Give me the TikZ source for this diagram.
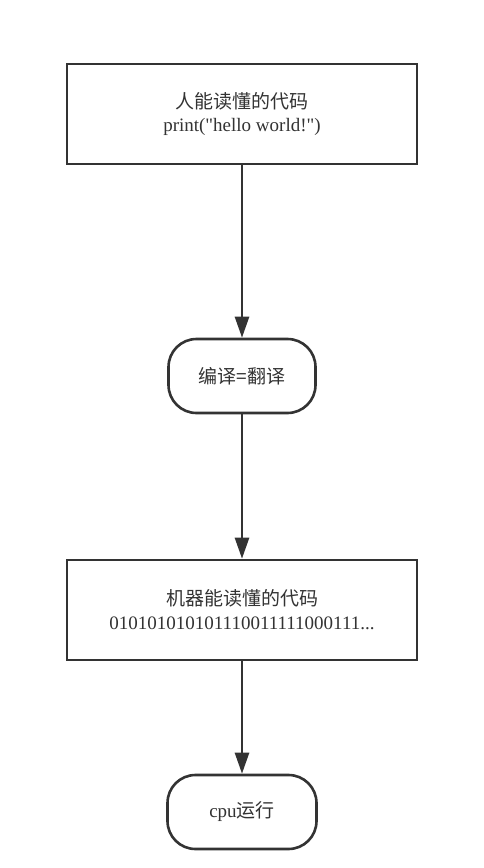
\documentclass[tikz,border=0pt]{standalone}
\usepackage{fontspec}
\setmainfont{Liberation Serif}[Ligatures=TeXOff]
\newfontfamily\cjk{Noto Sans CJK SC}
\usetikzlibrary{arrows.meta}
\definecolor{ink}{HTML}{333333}
\tikzset{
  flowbox/.style={draw=ink, line width=2.6pt, fill=white, text=ink,
    align=center, font=\fontsize{19}{24}\selectfont,
    minimum width=350pt, minimum height=100pt},
  flowpill/.style={flowbox, rounded corners=28pt,
    minimum width=147pt, minimum height=74pt},
  flowarrow/.style={draw=ink, line width=2.6pt,
    -{Triangle[length=21pt,width=14pt]}}
}
\begin{document}
\begin{tikzpicture}[x=1pt, y=-1pt]
      \useasboundingbox (0,0) rectangle (483,868);
      \node[flowbox] (human) at (242,114) {{\cjk 人能读懂的代码}\\print("hello world!")};
      \node[flowpill] (compile) at (242,376) {\cjk 编译=翻译};
      \node[flowbox] (machine) at (242,610) {{\cjk 机器能读懂的代码}\\010101010101110011111000111...};
      \node[flowpill, minimum width=149pt] (cpu) at (242,812) {cpu{\cjk 运行}};
      \draw[flowarrow] (human) -- (compile);
      \draw[flowarrow] (compile) -- (machine);
      \draw[flowarrow] (machine) -- (cpu);
     \end{tikzpicture}
\end{document}
